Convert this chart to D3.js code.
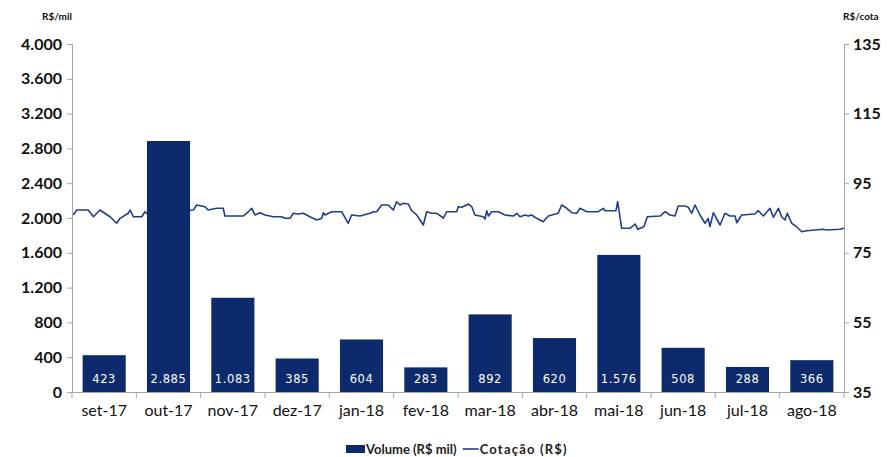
<!DOCTYPE html>
<html><head><meta charset="utf-8">
<script src="https://cdn.jsdelivr.net/npm/d3@7"></script>
<style>body{margin:0;background:#fff}svg{display:block}</style>
</head><body><svg id="c" width="887" height="457"></svg>
<script>
const categories=["set-17","out-17","nov-17","dez-17","jan-18","fev-18","mar-18","abr-18","mai-18","jun-18","jul-18","ago-18"];
const volumes=[423,2885,1083,385,604,283,892,620,1576,508,288,366];
const leftTicks=[0,400,800,1200,1600,2000,2400,2800,3200,3600,4000];
const rightTicks=[35,55,75,95,115,135];
// daily price (day offset from 1-set-17, R$/cota)
const priceDay=[0.6,2.2,7.7,10.1,13.2,18.0,21.1,22.7,26.6,27.4,29.0,33.0,34.5,36.1,41.6,48.7,57.4,59.0,62.9,64.4,68.4,71.5,72.3,81.0,83.4,85.0,86.5,88.9,91.3,95.2,99.1,100.7,103.1,104.6,107.0,109.4,112.5,115.7,118.1,118.8,119.6,122.8,127.5,130.6,132.2,136.2,140.9,142.5,144.1,146.4,149.5,151.9,153.5,155.1,156.6,159.0,160.6,163.0,166.1,167.7,170.1,172.4,174.8,175.5,177.2,181.9,182.6,184.3,187.4,189.0,190.5,194.5,195.3,196.1,196.9,198.4,201.6,204.7,208.7,210.3,211.8,214.2,215.7,217.3,219.7,222.8,225.2,229.9,231.5,233.9,236.3,238.6,240.2,243.4,248.8,251.2,252.0,257.2,258.0,259.9,263.8,266.2,267.5,270.4,272.0,278.0,280.4,282.7,285.1,286.6,289.8,291.4,293.0,294.6,296.9,299.3,300.8,301.6,303.2,306.4,308.7,311.1,313.5,314.3,316.6,322.9,324.5,326.9,330.0,331.6,334.0,335.5,337.1,338.2,340.3,342.6,345.0,347.4,355.2,356.8,363.1,365.0];
const priceValue=[85.86,87.30,87.30,85.37,87.30,85.37,83.48,84.91,86.35,87.30,85.37,85.37,86.81,85.86,86.72,87.00,87.30,88.73,88.25,87.30,87.79,87.79,85.57,85.57,86.81,87.79,85.86,86.52,85.86,85.37,85.37,84.91,84.91,86.35,86.15,86.35,85.37,84.42,84.91,86.52,85.86,86.81,86.81,83.48,85.86,85.57,86.35,86.81,86.81,88.73,88.73,87.30,89.68,88.73,89.22,89.02,87.10,85.86,82.99,86.81,86.35,86.35,85.37,84.91,86.81,86.81,88.25,88.07,89.02,88.25,85.86,85.37,84.71,87.10,85.57,86.81,86.81,85.86,85.57,86.35,85.37,85.86,85.57,85.86,84.91,83.94,85.57,86.35,88.73,87.79,86.52,86.35,87.79,86.81,86.81,87.79,87.10,87.10,89.68,82.04,82.04,83.28,81.75,82.50,85.37,85.57,86.81,85.86,85.57,88.45,88.45,88.07,86.35,88.73,85.86,83.48,84.91,82.50,86.52,82.99,86.35,85.57,85.57,83.65,85.86,86.15,87.10,85.57,87.79,85.20,87.79,85.37,84.42,86.35,83.48,82.50,81.06,81.35,81.75,81.55,81.75,82.04];

const svg=d3.select("#c");
const L=72,R=844,T=44,B=392;
const loc=d3.formatLocale({decimal:",",thousands:".",grouping:[3],currency:["R$",""]});
const fmt=loc.format(",d");
const axisColor="#a6a6a6", barColor="#0c2a6c", lineColor="#1f3f8c";
const font="Lato, 'Open Sans', sans-serif";

const x=d3.scaleBand().domain(categories).range([L,R]).paddingInner(0.33).paddingOuter(0.165);
const yL=d3.scaleLinear().domain([0,4000]).range([B,T]);
const yR=d3.scaleLinear().domain([35,135]).range([B,T]);
const xd=d3.scaleLinear().domain([0,365]).range([L,R]);

// price line (behind bars)
const line=d3.line().x((d,i)=>xd(priceDay[i])).y(d=>yR(d));
svg.append("path").datum(priceValue).attr("d",line).attr("fill","none")
  .attr("stroke",lineColor).attr("stroke-width",1.6).attr("stroke-linejoin","round");

// bars
svg.append("g").selectAll("rect").data(volumes).join("rect")
  .attr("x",(d,i)=>x(categories[i])).attr("width",x.bandwidth())
  .attr("y",d=>yL(d)).attr("height",d=>B-yL(d)).attr("fill",barColor);

// bar labels
svg.append("g").selectAll("text").data(volumes).join("text")
  .attr("x",(d,i)=>x(categories[i])+x.bandwidth()/2).attr("y",B-9)
  .attr("text-anchor","middle").attr("fill","#fff")
  .style("font-family","'DejaVu Sans', sans-serif").style("font-size","11.5px").style("letter-spacing","0.6px")
  .text(d=>fmt(d));

// left axis
const gL=svg.append("g").attr("transform",`translate(${L},0)`)
  .call(d3.axisLeft(yL).tickValues(leftTicks).tickFormat(fmt).tickSize(5).tickPadding(5));
// right axis
const gR=svg.append("g").attr("transform",`translate(${R},0)`)
  .call(d3.axisRight(yR).tickValues(rightTicks).tickSize(5).tickPadding(4));
[gL,gR].forEach(g=>{
  g.select(".domain").attr("stroke",axisColor);
  g.selectAll(".tick line").attr("stroke",axisColor);
  g.selectAll("text").attr("fill","#111").style("font-family",font).style("font-size","16px").style("font-weight","bold");
});

// x axis
const gX=svg.append("g").attr("transform",`translate(0,${B})`)
  .call(d3.axisBottom(x).tickSize(0).tickPadding(13));
gX.select(".domain").attr("stroke",axisColor);
gX.selectAll("text").attr("fill","#111").style("font-family",font).style("font-size","16px");
const bounds=categories.map(c=>x(c)-x.step()*x.paddingInner()/2).concat([R]);
gX.selectAll(".sep").data(bounds).join("line").attr("class","sep")
  .attr("x1",d=>d).attr("x2",d=>d).attr("y1",0).attr("y2",6).attr("stroke",axisColor);

// unit labels
svg.append("text").attr("x",L).attr("y",20).attr("text-anchor","end")
  .style("font-family",font).style("font-size","10px").style("font-weight","bold").attr("fill","#111").text("R$/mil");
svg.append("text").attr("x",R-1).attr("y",20)
  .style("font-family",font).style("font-size","10px").style("font-weight","bold").attr("fill","#111").text("R$/cota");

// legend
const lg=svg.append("g").attr("transform","translate(346,449)");
lg.append("rect").attr("x",0).attr("y",-4).attr("width",19).attr("height",8).attr("fill",barColor);
const t1=lg.append("text").attr("x",20).attr("y",4.5).style("font-family",font).style("font-size","13px").style("font-weight","bold").attr("fill","#222").text("Volume (R$ mil)");
const w1=t1.node().getComputedTextLength();
lg.append("line").attr("x1",20+w1+6).attr("x2",20+w1+22).attr("y1",0).attr("y2",0).attr("stroke",lineColor).attr("stroke-width",1.6);
lg.append("text").attr("x",20+w1+23).attr("y",4.5).style("font-family",font).style("font-size","13px").style("font-weight","bold").style("letter-spacing","1.2px").attr("fill","#222").text("Cotação (R$)");
</script></body></html>
